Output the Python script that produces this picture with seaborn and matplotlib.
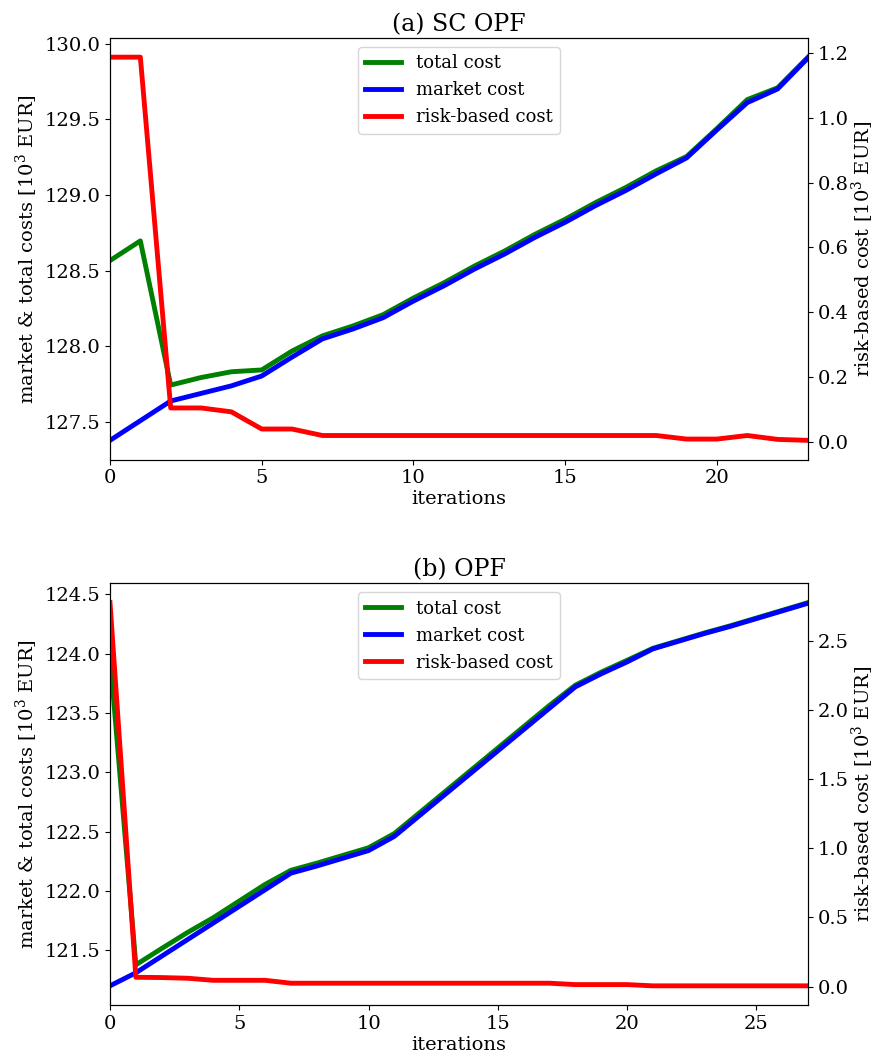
import matplotlib
matplotlib.use("Agg")
import matplotlib.pyplot as plt
import seaborn as sns
import numpy as np

plt.rcParams.update({
    "font.family": "DejaVu Serif",
    "mathtext.fontset": "dejavuserif",
    "xtick.labelsize": 14,
    "ytick.labelsize": 14,
    "axes.labelsize": 14,
    "axes.titlesize": 17,
    "legend.fontsize": 13,
})

# (a) SC OPF
sc_iters = list(range(24))
sc_total = [128.567, 128.697, 127.745, 127.795, 127.833, 127.845, 127.97, 128.07,
            128.135, 128.21, 128.32, 128.42, 128.53, 128.63, 128.74, 128.84,
            128.95, 129.05, 129.16, 129.254, 129.439, 129.63, 129.708, 129.91]
sc_market = [127.38, 127.51, 127.64, 127.69, 127.74, 127.805, 127.93, 128.05,
             128.115, 128.19, 128.30, 128.40, 128.51, 128.61, 128.72, 128.82,
             128.93, 129.03, 129.14, 129.245, 129.43, 129.61, 129.70, 129.905]
sc_risk = [1.187, 1.187, 0.105, 0.105, 0.093, 0.040, 0.040, 0.020,
           0.020, 0.020, 0.020, 0.020, 0.020, 0.020, 0.020, 0.020,
           0.020, 0.020, 0.020, 0.009, 0.009, 0.020, 0.008, 0.005]

# (b) OPF
opf_iters = list(range(28))
opf_total = [123.98, 121.377, 121.515, 121.65, 121.775, 121.915, 122.055, 122.174,
             122.234, 122.299, 122.364, 122.484, 122.664, 122.844, 123.024, 123.204,
             123.384, 123.564, 123.734, 123.844, 123.944, 124.045, 124.11, 124.175,
             124.235, 124.30, 124.365, 124.43]
opf_market = [121.20, 121.31, 121.45, 121.59, 121.73, 121.87, 122.01, 122.15,
              122.21, 122.275, 122.34, 122.46, 122.64, 122.82, 123.00, 123.18,
              123.36, 123.54, 123.72, 123.83, 123.93, 124.04, 124.105, 124.17,
              124.23, 124.295, 124.36, 124.425]
opf_risk = [2.78, 0.067, 0.065, 0.060, 0.045, 0.045, 0.045, 0.024,
            0.024, 0.024, 0.024, 0.024, 0.024, 0.024, 0.024, 0.024,
            0.024, 0.024, 0.014, 0.014, 0.014, 0.005, 0.005, 0.005,
            0.005, 0.005, 0.005, 0.005]

panels = [
    ("(a) SC OPF", sc_iters, sc_total, sc_market, sc_risk),
    ("(b) OPF", opf_iters, opf_total, opf_market, opf_risk),
]

fig, axes = plt.subplots(2, 1, figsize=(8.78, 10.62), dpi=100)
fig.subplots_adjust(left=110 / 878, right=808 / 878, top=1 - 38 / 1062,
                    bottom=1 - 1005 / 1062, hspace=0.294)

lw = 3.5
for ax, (title, iters, total, market, risk) in zip(axes, panels):
    sns.lineplot(x=iters, y=total, ax=ax, color="green", lw=lw, label="total cost", legend=False)
    sns.lineplot(x=iters, y=market, ax=ax, color="blue", lw=lw, label="market cost", legend=False)
    ax2 = ax.twinx()
    sns.lineplot(x=iters, y=risk, ax=ax2, color="red", lw=lw, label="risk-based cost", legend=False)

    ax.set_xlim(0, iters[-1])
    ax.set_title(title, pad=5)
    ax.set_xlabel("iterations", labelpad=2)
    ax.set_ylabel("market & total costs [$10^3$ EUR]", labelpad=3)
    ax2.set_ylabel("risk-based cost [$10^3$ EUR]", labelpad=1)

    h1, l1 = ax.get_legend_handles_labels()
    h2, l2 = ax2.get_legend_handles_labels()
    ax2.legend(h1 + h2, l1 + l2, loc="upper center")

fig.savefig("out.png", dpi=100)
